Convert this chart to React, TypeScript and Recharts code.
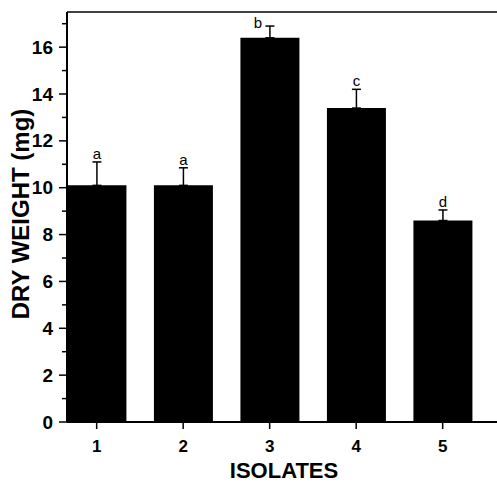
import { BarChart, Bar, XAxis, YAxis, ErrorBar, LabelList, ReferenceLine, Label } from 'recharts';

const isolates = [1, 2, 3, 4, 5];
const dryWeight = [10.1, 10.1, 16.4, 13.4, 8.6];
const stdErr = [1.0, 0.75, 0.5, 0.8, 0.45];
const letters = ['a', 'a', 'b', 'c', 'd'];
const yTicks = [0, 1, 2, 3, 4, 5, 6, 7, 8, 9, 10, 11, 12, 13, 14, 15, 16, 17];

const FONT = '"Liberation Sans", Arial, Helvetica, sans-serif';

const data = isolates.map((iso, i) => ({
  iso,
  weight: dryWeight[i],
  err: [0, stdErr[i]],
  letter: letters[i],
}));

const YTick = (props: any) => {
  const { x, y, payload } = props;
  const major = payload.value % 2 === 0;
  return (
    <g>
      <line x1={x - (major ? 8 : 5)} x2={x} y1={y} y2={y} stroke="#000" strokeWidth={1.5} />
      {major && (
        <text x={x - 14} y={y} textAnchor="end" dominantBaseline="central" fontFamily={FONT} fontWeight="bold" fontSize={19} fill="#000">
          {payload.value}
        </text>
      )}
    </g>
  );
};

const XTick = (props: any) => {
  const { x, y, payload } = props;
  return (
    <g>
      <line x1={x} x2={x} y1={y} y2={y + 7} stroke="#000" strokeWidth={1.5} />
      <text x={x} y={y + 30} textAnchor="middle" fontFamily={FONT} fontWeight="bold" fontSize={17} fill="#000">
        {payload.value}
      </text>
    </g>
  );
};

// letter "b" sits beside its error bar in the original
const letterShift: Record<string, number> = { b: -12 };

const LetterLabel = (props: any) => {
  const { x, y, width, height, index, value } = props;
  const perUnit = height / dryWeight[index];
  const capY = y - stdErr[index] * perUnit;
  const shift = letterShift[value] ?? 0;
  return (
    <text x={x + width / 2 + shift} y={capY - (shift ? -2 : 3)} textAnchor="middle" fontFamily={FONT} fontSize={15} fill="#000">
      {value}
    </text>
  );
};

export default function App() {
  return (
    <div style={{ position: 'absolute', left: 0, top: 0, width: 497, height: 483, background: '#fff' }}>
      <BarChart width={497} height={483} data={data} margin={{ top: 12, right: 0, left: 0, bottom: 0 }}>
        <XAxis
          dataKey="iso"
          type="number"
          domain={[0.657, 5.628]}
          ticks={isolates}
          allowDataOverflow
          height={61}
          tickSize={0}
          tickMargin={0}
          tickLine={false}
          tick={<XTick />}
          axisLine={{ stroke: '#000', strokeWidth: 2 }}
        >
          <Label
            content={({ viewBox }: any) => (
              <text x={viewBox.x + viewBox.width / 2 + 2} y={viewBox.y + 56} textAnchor="middle" fontFamily={FONT} fontWeight="bold" fontSize={22} fill="#000">
                ISOLATES
              </text>
            )}
          />
        </XAxis>
        <YAxis
          type="number"
          domain={[0, 17.5]}
          ticks={yTicks}
          allowDataOverflow
          width={67}
          tickSize={0}
          tickMargin={0}
          tickLine={false}
          tick={<YTick />}
          axisLine={{ stroke: '#000', strokeWidth: 2 }}
        >
          <Label
            content={({ viewBox }: any) => {
              const cx = viewBox.x + 20;
              const cy = viewBox.y + viewBox.height / 2 - 3;
              return (
                <text x={cx} y={cy} transform={`rotate(-90, ${cx}, ${cy})`} textAnchor="middle" dominantBaseline="central" fontFamily={FONT} fontWeight="bold" fontSize={24} fill="#000">
                  DRY WEIGHT (mg)
                </text>
              );
            }}
          />
        </YAxis>
        <ReferenceLine y={17.5} stroke="#000" strokeWidth={1.5} />
        <Bar dataKey="weight" fill="#000" barSize={59} isAnimationActive={false}>
          <ErrorBar dataKey="err" direction="y" width={4.5} stroke="#000" strokeWidth={1.5} isAnimationActive={false} />
          <LabelList dataKey="letter" content={<LetterLabel />} />
        </Bar>
      </BarChart>
    </div>
  );
}
